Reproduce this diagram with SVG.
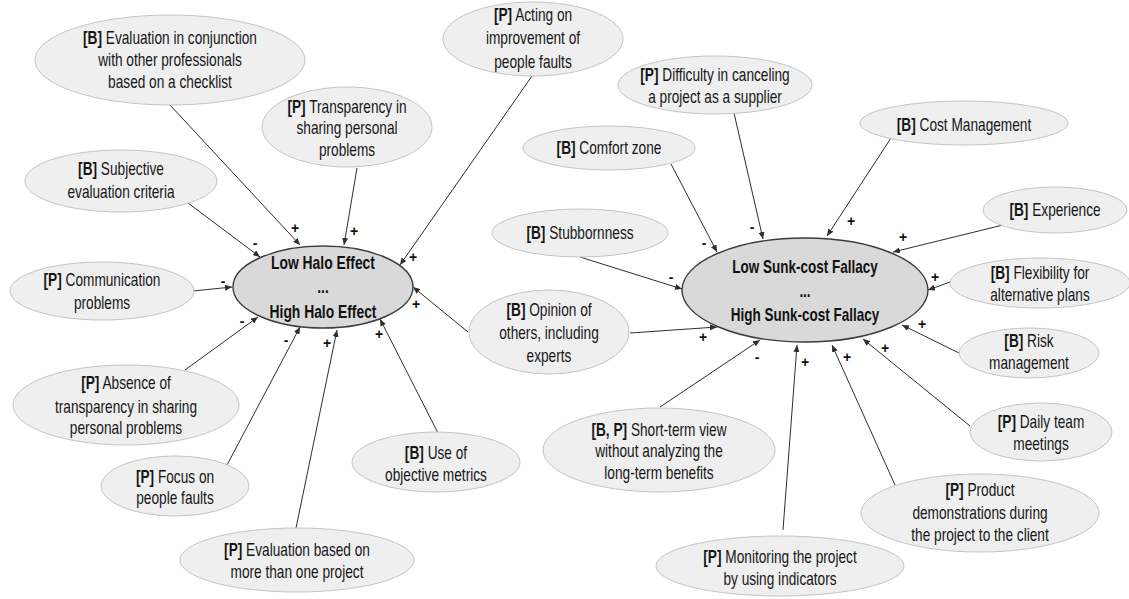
<svg xmlns="http://www.w3.org/2000/svg" width="1129" height="599" viewBox="0 0 1129 599">
  <style>
    .bg { fill: #ffffff; }
    .factor { fill: #efefef; stroke: #c4c4c4; stroke-width: 1; }
    .core { fill: #d9d9d9; stroke: #3c3c3c; stroke-width: 1.4; }
    .lbl { font-family: "Liberation Sans", Arial, sans-serif; font-size: 18px; fill: #161616; text-anchor: middle; }
    .title { font-family: "Liberation Sans", Arial, sans-serif; font-size: 18px; font-weight: bold; fill: #111; text-anchor: middle; }
    .tag { font-weight: bold; }
    .link { stroke: #2e2e2e; stroke-width: 1; fill: none; marker-end: url(#arrow); }
    .sign { font-family: "Liberation Sans", Arial, sans-serif; font-size: 14px; font-weight: bold; fill: #111; text-anchor: middle; }
  </style>
  <defs>
    <marker id="arrow" markerUnits="userSpaceOnUse" markerWidth="8" markerHeight="6" refX="7" refY="3" orient="auto">
      <path d="M0,0 L7,3 L0,6 z" fill="#2e2e2e"/>
    </marker>
  </defs>

  <rect class="bg" x="0" y="0" width="1129" height="599"/>

  <!-- connectors: factor -> construct, with polarity signs -->
  <g id="connectors">
    <line class="link" x1="170" y1="105" x2="300" y2="245"/>
    <line class="link" x1="357" y1="168" x2="344" y2="245"/>
    <line class="link" x1="532" y1="76" x2="400" y2="265"/>
    <line class="link" x1="188" y1="203" x2="260" y2="257"/>
    <line class="link" x1="193" y1="291" x2="232" y2="287"/>
    <line class="link" x1="185" y1="370" x2="258" y2="317"/>
    <line class="link" x1="227" y1="465" x2="300" y2="327"/>
    <line class="link" x1="296" y1="528" x2="337" y2="330"/>
    <line class="link" x1="438" y1="433" x2="380" y2="319"/>
    <line class="link" x1="468" y1="332" x2="413" y2="287"/>

    <line class="link" x1="734" y1="113" x2="763" y2="239"/>
    <line class="link" x1="671" y1="164" x2="717" y2="252"/>
    <line class="link" x1="580" y1="257" x2="682" y2="289"/>
    <line class="link" x1="891" y1="138" x2="827" y2="236"/>
    <line class="link" x1="1003" y1="225" x2="893" y2="252"/>
    <line class="link" x1="950" y1="282" x2="928" y2="290"/>
    <line class="link" x1="959" y1="353" x2="902" y2="325"/>
    <line class="link" x1="970" y1="426" x2="863" y2="339"/>
    <line class="link" x1="895" y1="485" x2="832" y2="345"/>
    <line class="link" x1="783" y1="530" x2="797" y2="345"/>
    <line class="link" x1="660" y1="407" x2="760" y2="340"/>
    <line class="link" x1="630" y1="333" x2="717" y2="327"/>

    <g id="signs">
      <text class="sign" x="295" y="233">+</text>
      <text class="sign" x="354" y="236">+</text>
      <text class="sign" x="413" y="262">+</text>
      <text class="sign" x="255" y="248">-</text>
      <text class="sign" x="223" y="286">-</text>
      <text class="sign" x="242" y="326">-</text>
      <text class="sign" x="286" y="345">-</text>
      <text class="sign" x="327" y="348">+</text>
      <text class="sign" x="379" y="339">+</text>
      <text class="sign" x="416" y="309">+</text>

      <text class="sign" x="752" y="232">-</text>
      <text class="sign" x="704" y="248">-</text>
      <text class="sign" x="671" y="282">-</text>
      <text class="sign" x="851" y="226">+</text>
      <text class="sign" x="903" y="242">+</text>
      <text class="sign" x="935" y="282">+</text>
      <text class="sign" x="922" y="329">+</text>
      <text class="sign" x="885" y="353">+</text>
      <text class="sign" x="847" y="362">+</text>
      <text class="sign" x="805" y="367">+</text>
      <text class="sign" x="757" y="362">-</text>
      <text class="sign" x="703" y="342">+</text>
    </g>
  </g>

  <!-- central constructs -->
  <g id="halo-effect">
    <ellipse class="core" cx="323" cy="287" rx="90" ry="41"/>
    <g transform="translate(323 0) scale(0.77 1)">
      <text class="title"><tspan x="0" y="269">Low Halo Effect</tspan><tspan x="0" y="293">...</tspan><tspan x="0" y="318">High Halo Effect</tspan></text>
    </g>
  </g>

  <g id="sunk-cost">
    <ellipse class="core" cx="805" cy="290" rx="123" ry="52"/>
    <g transform="translate(805 0) scale(0.75 1)">
      <text class="title"><tspan x="0" y="273">Low Sunk-cost Fallacy</tspan><tspan x="0" y="297">...</tspan><tspan x="0" y="321">High Sunk-cost Fallacy</tspan></text>
    </g>
  </g>

  <!-- factors around the halo effect -->
  <g id="eval-checklist">
    <ellipse class="factor" cx="170" cy="60" rx="135" ry="45"/>
    <g transform="translate(170 0) scale(0.76 1)">
      <text class="lbl"><tspan x="0" y="44"><tspan class="tag">[B]</tspan> Evaluation in conjunction</tspan><tspan x="0" y="66">with other professionals</tspan><tspan x="0" y="88">based on a checklist</tspan></text>
    </g>
  </g>

  <g id="transparency">
    <ellipse class="factor" cx="347" cy="127" rx="85" ry="40"/>
    <g transform="translate(347 0) scale(0.76 1)">
      <text class="lbl"><tspan x="0" y="113"><tspan class="tag">[P]</tspan> Transparency in</tspan><tspan x="0" y="134">sharing personal</tspan><tspan x="0" y="156">problems</tspan></text>
    </g>
  </g>

  <g id="acting-faults">
    <ellipse class="factor" cx="533" cy="39" rx="90" ry="37"/>
    <g transform="translate(533 0) scale(0.76 1)">
      <text class="lbl"><tspan x="0" y="21"><tspan class="tag">[P]</tspan> Acting on</tspan><tspan x="0" y="44">improvement of</tspan><tspan x="0" y="68">people faults</tspan></text>
    </g>
  </g>

  <g id="subjective">
    <ellipse class="factor" cx="121" cy="181" rx="96" ry="31"/>
    <g transform="translate(121 0) scale(0.76 1)">
      <text class="lbl"><tspan x="0" y="175"><tspan class="tag">[B]</tspan> Subjective</tspan><tspan x="0" y="198">evaluation criteria</tspan></text>
    </g>
  </g>

  <g id="communication">
    <ellipse class="factor" cx="102" cy="291" rx="92" ry="29"/>
    <g transform="translate(102 0) scale(0.76 1)">
      <text class="lbl"><tspan x="0" y="286"><tspan class="tag">[P]</tspan> Communication</tspan><tspan x="0" y="309">problems</tspan></text>
    </g>
  </g>

  <g id="absence-transparency">
    <ellipse class="factor" cx="126" cy="405" rx="113" ry="40"/>
    <g transform="translate(126 0) scale(0.76 1)">
      <text class="lbl"><tspan x="0" y="389"><tspan class="tag">[P]</tspan> Absence of</tspan><tspan x="0" y="413">transparency in sharing</tspan><tspan x="0" y="434">personal problems</tspan></text>
    </g>
  </g>

  <g id="focus-faults">
    <ellipse class="factor" cx="175" cy="486" rx="74" ry="30"/>
    <g transform="translate(175 0) scale(0.76 1)">
      <text class="lbl"><tspan x="0" y="483"><tspan class="tag">[P]</tspan> Focus on</tspan><tspan x="0" y="504">people faults</tspan></text>
    </g>
  </g>

  <g id="eval-multi-project">
    <ellipse class="factor" cx="297" cy="560" rx="117" ry="32"/>
    <g transform="translate(297 0) scale(0.76 1)">
      <text class="lbl"><tspan x="0" y="556"><tspan class="tag">[P]</tspan> Evaluation based on</tspan><tspan x="0" y="578">more than one project</tspan></text>
    </g>
  </g>

  <g id="objective-metrics">
    <ellipse class="factor" cx="436" cy="462" rx="84" ry="30"/>
    <g transform="translate(436 0) scale(0.76 1)">
      <text class="lbl"><tspan x="0" y="459"><tspan class="tag">[B]</tspan> Use of</tspan><tspan x="0" y="481">objective metrics</tspan></text>
    </g>
  </g>

  <g id="opinion-others">
    <ellipse class="factor" cx="549" cy="332" rx="80" ry="42"/>
    <g transform="translate(549 0) scale(0.76 1)">
      <text class="lbl"><tspan x="0" y="316"><tspan class="tag">[B]</tspan> Opinion of</tspan><tspan x="0" y="339">others, including</tspan><tspan x="0" y="362">experts</tspan></text>
    </g>
  </g>

  <!-- factors around the sunk-cost fallacy -->
  <g id="difficulty-canceling">
    <ellipse class="factor" cx="715" cy="85" rx="97" ry="29"/>
    <g transform="translate(715 0) scale(0.76 1)">
      <text class="lbl"><tspan x="0" y="81"><tspan class="tag">[P]</tspan> Difficulty in canceling</tspan><tspan x="0" y="103">a project as a supplier</tspan></text>
    </g>
  </g>

  <g id="comfort-zone">
    <ellipse class="factor" cx="609" cy="148" rx="86" ry="22"/>
    <g transform="translate(609 0) scale(0.76 1)">
      <text class="lbl"><tspan x="0" y="154"><tspan class="tag">[B]</tspan> Comfort zone</tspan></text>
    </g>
  </g>

  <g id="stubbornness">
    <ellipse class="factor" cx="580" cy="233" rx="88" ry="24"/>
    <g transform="translate(580 0) scale(0.76 1)">
      <text class="lbl"><tspan x="0" y="239"><tspan class="tag">[B]</tspan> Stubbornness</tspan></text>
    </g>
  </g>

  <g id="cost-management">
    <ellipse class="factor" cx="964" cy="123" rx="104" ry="22"/>
    <g transform="translate(964 0) scale(0.76 1)">
      <text class="lbl"><tspan x="0" y="131"><tspan class="tag">[B]</tspan> Cost Management</tspan></text>
    </g>
  </g>

  <g id="experience">
    <ellipse class="factor" cx="1055" cy="210" rx="72" ry="23"/>
    <g transform="translate(1055 0) scale(0.76 1)">
      <text class="lbl"><tspan x="0" y="216"><tspan class="tag">[B]</tspan> Experience</tspan></text>
    </g>
  </g>

  <g id="flexibility">
    <ellipse class="factor" cx="1040" cy="283" rx="90" ry="25"/>
    <g transform="translate(1040 0) scale(0.76 1)">
      <text class="lbl"><tspan x="0" y="279"><tspan class="tag">[B]</tspan> Flexibility for</tspan><tspan x="0" y="301">alternative plans</tspan></text>
    </g>
  </g>

  <g id="risk-management">
    <ellipse class="factor" cx="1029" cy="353" rx="70" ry="25"/>
    <g transform="translate(1029 0) scale(0.76 1)">
      <text class="lbl"><tspan x="0" y="347"><tspan class="tag">[B]</tspan> Risk</tspan><tspan x="0" y="369">management</tspan></text>
    </g>
  </g>

  <g id="daily-meetings">
    <ellipse class="factor" cx="1041" cy="432" rx="71" ry="29"/>
    <g transform="translate(1041 0) scale(0.76 1)">
      <text class="lbl"><tspan x="0" y="428"><tspan class="tag">[P]</tspan> Daily team</tspan><tspan x="0" y="450">meetings</tspan></text>
    </g>
  </g>

  <g id="product-demos">
    <ellipse class="factor" cx="980" cy="513" rx="119" ry="39"/>
    <g transform="translate(980 0) scale(0.76 1)">
      <text class="lbl"><tspan x="0" y="496"><tspan class="tag">[P]</tspan> Product</tspan><tspan x="0" y="519">demonstrations during</tspan><tspan x="0" y="541">the project to the client</tspan></text>
    </g>
  </g>

  <g id="monitoring">
    <ellipse class="factor" cx="780" cy="566" rx="124" ry="30"/>
    <g transform="translate(780 0) scale(0.76 1)">
      <text class="lbl"><tspan x="0" y="563"><tspan class="tag">[P]</tspan> Monitoring the project</tspan><tspan x="0" y="585">by using indicators</tspan></text>
    </g>
  </g>

  <g id="short-term-view">
    <ellipse class="factor" cx="659" cy="450" rx="116" ry="42"/>
    <g transform="translate(659 0) scale(0.76 1)">
      <text class="lbl"><tspan x="0" y="436"><tspan class="tag">[B, P]</tspan> Short-term view</tspan><tspan x="0" y="457">without analyzing the</tspan><tspan x="0" y="479">long-term benefits</tspan></text>
    </g>
  </g>
</svg>
